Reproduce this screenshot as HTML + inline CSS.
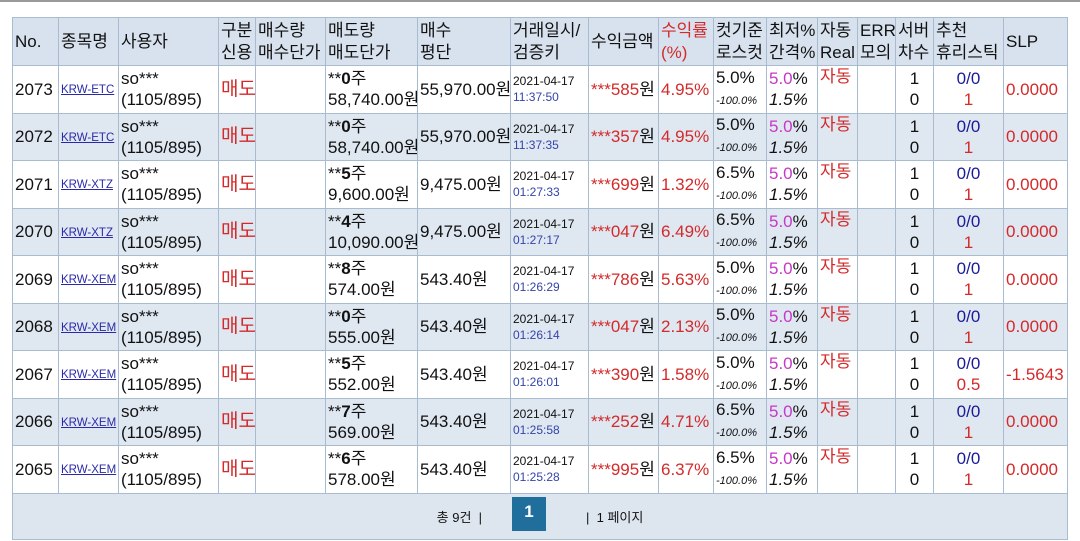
<!DOCTYPE html>
<html><head><meta charset="utf-8"><style>
body{margin:0;width:1080px;height:541px;background:#fff;position:relative;overflow:hidden;font-family:"Liberation Sans","Noto Sans CJK KR",sans-serif;}
.top{position:absolute;left:0;top:0;width:1080px;height:2px;background:#9a9a9a}
table{position:absolute;left:12px;top:17px;border-collapse:collapse;table-layout:fixed;width:1055px}
td,th{border:1px solid #a9bccf;padding:0 2px;font-weight:normal;text-align:left;vertical-align:middle;overflow:hidden;white-space:nowrap;color:#111}
th{background:#d8e2ee;font-size:17px;line-height:22px;height:47px}
tr.r td{height:46.5px;font-size:17px;line-height:21px}
tr.b td{background:#dfe7f1}
.lk{color:#2a2aa8;text-decoration:underline;font-size:11.5px}
.red{color:#d42a2a}
tr.r td.sm{font-size:12px;line-height:16px}
tr.r td.md{font-size:19px}
.tm{color:#3344aa}
.it{font-style:italic;font-size:11px}
.mg{color:#c638c6}
.c{text-align:center}
.nv{color:#1a1a99}
.ft td{background:#dde5ef;height:45px;text-align:center;font-size:13px;position:relative}
.pg{display:inline-block;width:34px;height:34px;background:#1f6e9c;color:#fff;font-size:17px;line-height:30px;font-weight:bold;vertical-align:top;margin:0 40px 0 30px}
</style></head><body>
<div class="top"></div>
<table>
<colgroup><col style="width:46px"><col style="width:60px"><col style="width:100px"><col style="width:37px"><col style="width:70px"><col style="width:92px"><col style="width:93px"><col style="width:78px"><col style="width:70px"><col style="width:55px"><col style="width:53px"><col style="width:51px"><col style="width:40px"><col style="width:38px"><col style="width:38px"><col style="width:70px"><col style="width:64px"></colgroup>
<tr><th>No.</th><th>종목명</th><th>사용자</th><th>구분<br>신용</th><th>매수량<br>매수단가</th><th>매도량<br>매도단가</th><th>매수<br>평단</th><th>거래일시/<br>검증키</th><th>수익금액</th><th class="red">수익률<br>(%)</th><th>컷기준<br>로스컷</th><th>최저%<br>간격%</th><th>자동<br>Real</th><th>ERR<br>모의</th><th>서버<br>차수</th><th>추천<br>휴리스틱</th><th>SLP</th></tr>
<tr class="r"><td>2073</td><td><span class="lk">KRW-ETC</span></td><td>so***<br>(1105/895)</td><td class="red md">매도</td><td></td><td>**<b>0</b>주<br>58,740.00원</td><td>55,970.00원</td><td class="sm">2021-04-17<br><span class="tm">11:37:50</span></td><td><span class="red">***585</span>원</td><td class="red">4.95%</td><td>5.0%<br><span class="it">-100.0%</span></td><td><span class="mg">5.0</span>%<br><i>1.5%</i></td><td class="red" style="vertical-align:top">자동</td><td></td><td class="c">1<br>0</td><td class="c"><span class="nv">0/0</span><br><span class="red">1</span></td><td class="red">0.0000</td></tr>
<tr class="r b"><td>2072</td><td><span class="lk">KRW-ETC</span></td><td>so***<br>(1105/895)</td><td class="red md">매도</td><td></td><td>**<b>0</b>주<br>58,740.00원</td><td>55,970.00원</td><td class="sm">2021-04-17<br><span class="tm">11:37:35</span></td><td><span class="red">***357</span>원</td><td class="red">4.95%</td><td>5.0%<br><span class="it">-100.0%</span></td><td><span class="mg">5.0</span>%<br><i>1.5%</i></td><td class="red" style="vertical-align:top">자동</td><td></td><td class="c">1<br>0</td><td class="c"><span class="nv">0/0</span><br><span class="red">1</span></td><td class="red">0.0000</td></tr>
<tr class="r"><td>2071</td><td><span class="lk">KRW-XTZ</span></td><td>so***<br>(1105/895)</td><td class="red md">매도</td><td></td><td>**<b>5</b>주<br>9,600.00원</td><td>9,475.00원</td><td class="sm">2021-04-17<br><span class="tm">01:27:33</span></td><td><span class="red">***699</span>원</td><td class="red">1.32%</td><td>6.5%<br><span class="it">-100.0%</span></td><td><span class="mg">5.0</span>%<br><i>1.5%</i></td><td class="red" style="vertical-align:top">자동</td><td></td><td class="c">1<br>0</td><td class="c"><span class="nv">0/0</span><br><span class="red">1</span></td><td class="red">0.0000</td></tr>
<tr class="r b"><td>2070</td><td><span class="lk">KRW-XTZ</span></td><td>so***<br>(1105/895)</td><td class="red md">매도</td><td></td><td>**<b>4</b>주<br>10,090.00원</td><td>9,475.00원</td><td class="sm">2021-04-17<br><span class="tm">01:27:17</span></td><td><span class="red">***047</span>원</td><td class="red">6.49%</td><td>6.5%<br><span class="it">-100.0%</span></td><td><span class="mg">5.0</span>%<br><i>1.5%</i></td><td class="red" style="vertical-align:top">자동</td><td></td><td class="c">1<br>0</td><td class="c"><span class="nv">0/0</span><br><span class="red">1</span></td><td class="red">0.0000</td></tr>
<tr class="r"><td>2069</td><td><span class="lk">KRW-XEM</span></td><td>so***<br>(1105/895)</td><td class="red md">매도</td><td></td><td>**<b>8</b>주<br>574.00원</td><td>543.40원</td><td class="sm">2021-04-17<br><span class="tm">01:26:29</span></td><td><span class="red">***786</span>원</td><td class="red">5.63%</td><td>5.0%<br><span class="it">-100.0%</span></td><td><span class="mg">5.0</span>%<br><i>1.5%</i></td><td class="red" style="vertical-align:top">자동</td><td></td><td class="c">1<br>0</td><td class="c"><span class="nv">0/0</span><br><span class="red">1</span></td><td class="red">0.0000</td></tr>
<tr class="r b"><td>2068</td><td><span class="lk">KRW-XEM</span></td><td>so***<br>(1105/895)</td><td class="red md">매도</td><td></td><td>**<b>0</b>주<br>555.00원</td><td>543.40원</td><td class="sm">2021-04-17<br><span class="tm">01:26:14</span></td><td><span class="red">***047</span>원</td><td class="red">2.13%</td><td>5.0%<br><span class="it">-100.0%</span></td><td><span class="mg">5.0</span>%<br><i>1.5%</i></td><td class="red" style="vertical-align:top">자동</td><td></td><td class="c">1<br>0</td><td class="c"><span class="nv">0/0</span><br><span class="red">1</span></td><td class="red">0.0000</td></tr>
<tr class="r"><td>2067</td><td><span class="lk">KRW-XEM</span></td><td>so***<br>(1105/895)</td><td class="red md">매도</td><td></td><td>**<b>5</b>주<br>552.00원</td><td>543.40원</td><td class="sm">2021-04-17<br><span class="tm">01:26:01</span></td><td><span class="red">***390</span>원</td><td class="red">1.58%</td><td>5.0%<br><span class="it">-100.0%</span></td><td><span class="mg">5.0</span>%<br><i>1.5%</i></td><td class="red" style="vertical-align:top">자동</td><td></td><td class="c">1<br>0</td><td class="c"><span class="nv">0/0</span><br><span class="red">0.5</span></td><td class="red">-1.5643</td></tr>
<tr class="r b"><td>2066</td><td><span class="lk">KRW-XEM</span></td><td>so***<br>(1105/895)</td><td class="red md">매도</td><td></td><td>**<b>7</b>주<br>569.00원</td><td>543.40원</td><td class="sm">2021-04-17<br><span class="tm">01:25:58</span></td><td><span class="red">***252</span>원</td><td class="red">4.71%</td><td>6.5%<br><span class="it">-100.0%</span></td><td><span class="mg">5.0</span>%<br><i>1.5%</i></td><td class="red" style="vertical-align:top">자동</td><td></td><td class="c">1<br>0</td><td class="c"><span class="nv">0/0</span><br><span class="red">1</span></td><td class="red">0.0000</td></tr>
<tr class="r"><td>2065</td><td><span class="lk">KRW-XEM</span></td><td>so***<br>(1105/895)</td><td class="red md">매도</td><td></td><td>**<b>6</b>주<br>578.00원</td><td>543.40원</td><td class="sm">2021-04-17<br><span class="tm">01:25:28</span></td><td><span class="red">***995</span>원</td><td class="red">6.37%</td><td>6.5%<br><span class="it">-100.0%</span></td><td><span class="mg">5.0</span>%<br><i>1.5%</i></td><td class="red" style="vertical-align:top">자동</td><td></td><td class="c">1<br>0</td><td class="c"><span class="nv">0/0</span><br><span class="red">1</span></td><td class="red">0.0000</td></tr>
<tr class="ft"><td colspan="17"><span style="position:relative;top:8px">총 9건 &nbsp;|</span><span class="pg" style="position:relative;top:-2px">1</span><span style="position:relative;top:8px">| &nbsp;1 페이지</span></td></tr>
</table>
</body></html>
